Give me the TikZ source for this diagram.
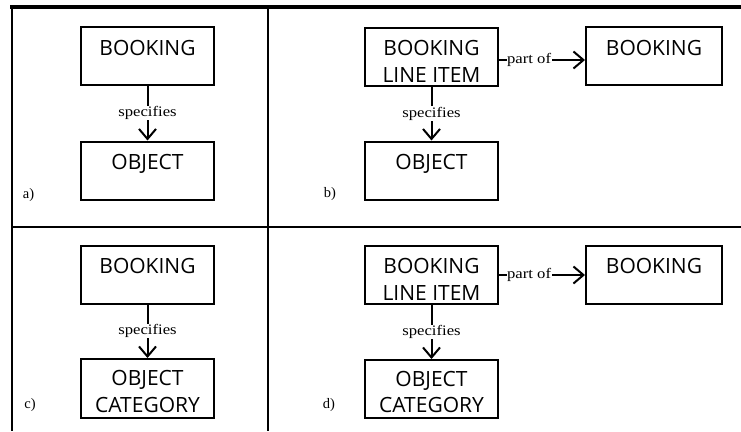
\documentclass[tikz,border=0pt]{standalone}
\usepackage{fontspec}
\setmainfont{Liberation Serif}
\newfontfamily\entfont{Open Sans}
\usetikzlibrary{arrows.meta}

\tikzset{
  frame/.style={line width=2pt},
  ent/.style={draw, line width=2pt, minimum width=133pt, minimum height=58pt,
              inner sep=0pt, align=center,
              font=\entfont\fontsize{21pt}{26.5pt}\selectfont},
  rel/.style={line width=2pt, -{Straight Barb[length=10pt,width=17pt]}},
  rlab/.style={fill=white, inner sep=0.5pt, font=\fontsize{14.5pt}{16pt}\selectfont},
  panel/.style={font=\fontsize{14.5pt}{16pt}\selectfont}
}
\newcommand{\toppad}[1]{\rule{0pt}{#1}}
\newcommand{\lab}[1]{\scalebox{1.15}[1]{#1}}

\begin{document}
\begin{tikzpicture}[x=1pt, y=-1pt]
\useasboundingbox (0,0) rectangle (741,431);

% grid of the four panels
\draw[line width=4pt] (10,7) -- (741,7);
\draw[frame] (12,7) -- (12,431);
\draw[frame] (268,7) -- (268,431);
\draw[frame] (12,227) -- (741,227);

% a)
\node[ent] (a1) at (147.5,56) {\toppad{24.5pt}BOOKING\\\mbox{}};
\node[ent] (a2) at (147.5,170.5) {\toppad{24.5pt}OBJECT\\\mbox{}};
\draw[rel] (a1) -- node[rlab] {\lab{specifies}} (a2);
\node[panel] (pa) at (28.5,195) {a)};

% b)
\node[ent] (b1) at (431.5,56.5) {\toppad{24.5pt}BOOKING\\LINE ITEM};
\node[ent, minimum width=136pt] (b2) at (654,56) {\toppad{24.5pt}BOOKING\\\mbox{}};
\node[ent] (b3) at (431.5,170.5) {\toppad{24.5pt}OBJECT\\\mbox{}};
\draw[rel] (b1) -- node[rlab] {\lab{specifies}} (b3);
\draw[rel] (b1.east |- 0,60) -- node[rlab, pos=0.35] {\lab{part of}} (b2.west |- 0,60);
\node[panel] (pb) at (330,194) {b)};

% c)
\node[ent] (c1) at (147.5,274.5) {\toppad{24.5pt}BOOKING\\\mbox{}};
\node[ent, minimum height=59pt] (c2) at (147.5,388.5) {\toppad{21pt}OBJECT\\CATEGORY};
\draw[rel] (c1) -- node[rlab] {\lab{specifies}} (c2);
\node[panel] (pc) at (30,405) {c)};

% d)
\node[ent] (d1) at (431.5,274.5) {\toppad{24.5pt}BOOKING\\LINE ITEM};
\node[ent, minimum width=136pt] (d2) at (654,274.5) {\toppad{24.5pt}BOOKING\\\mbox{}};
\node[ent, minimum height=58pt] (d3) at (431.5,389) {\toppad{21pt}OBJECT\\CATEGORY};
\draw[rel] (d1) -- node[rlab] {\lab{specifies}} (d3);
\draw[rel] (d1.east |- 0,275) -- node[rlab, pos=0.35] {\lab{part of}} (d2.west |- 0,275);
\node[panel] (pd) at (329,405) {d)};
\end{tikzpicture}
\end{document}
